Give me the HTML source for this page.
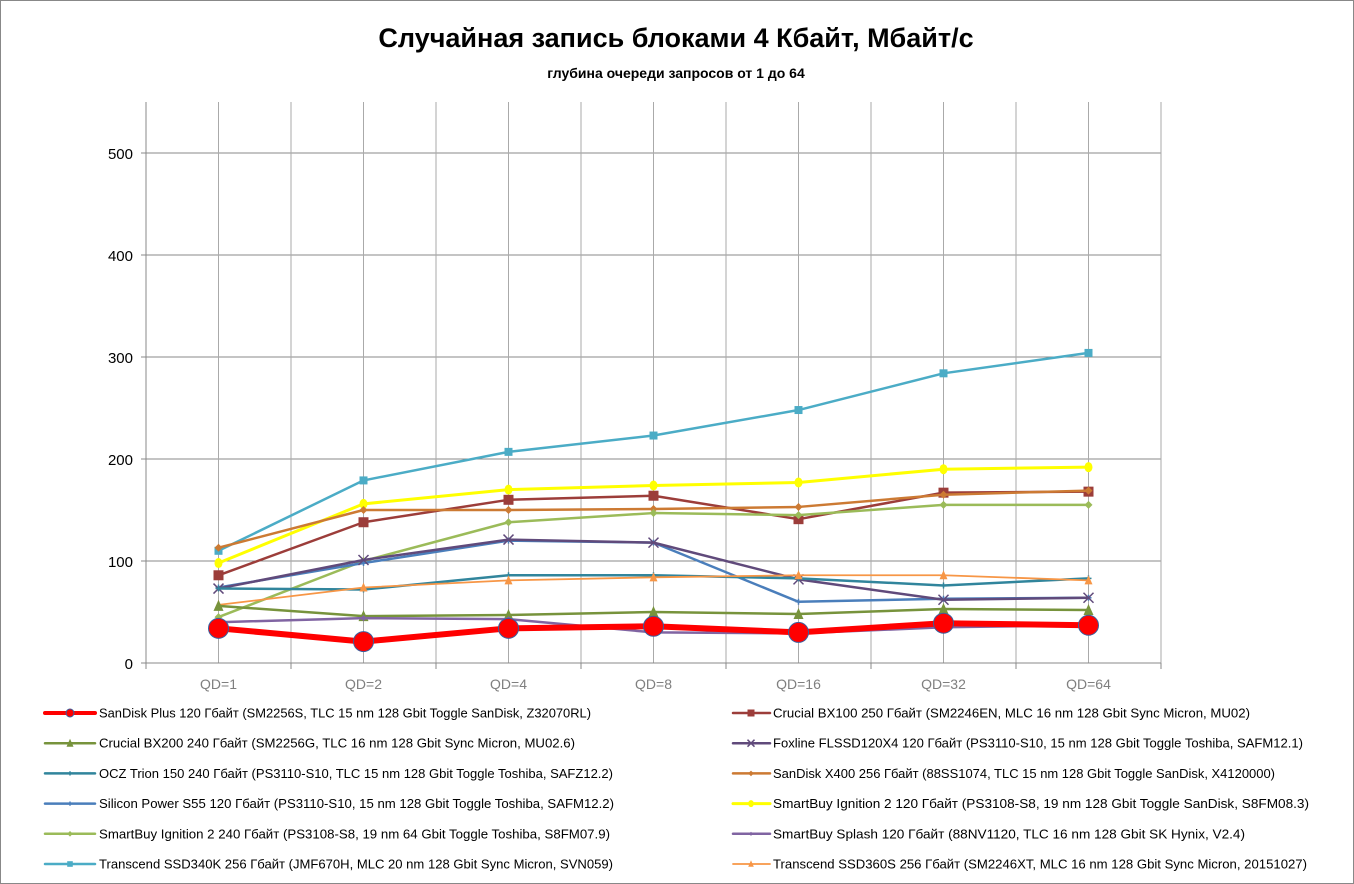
<!DOCTYPE html>
<html><head><meta charset="utf-8"><style>
html,body{margin:0;padding:0;background:#fff}
svg{display:block;font-family:"Liberation Sans",sans-serif}
</style></head><body>
<svg id="chart" width="1354" height="884" viewBox="0 0 1354 884" xmlns="http://www.w3.org/2000/svg">
<rect x="0.5" y="0.5" width="1353" height="883" fill="#fff" stroke="#888"/>
<text x="676" y="47" text-anchor="middle" font-size="27" font-weight="bold">Случайная запись блоками 4 Кбайт, Мбайт/с</text>
<text x="676" y="78" text-anchor="middle" font-size="14" font-weight="bold">глубина очереди запросов от 1 до 64</text>
<g id="grid"></g><g id="axes"></g><g id="series"></g><g id="legend"></g>
</svg>
<script>
const categories=["QD=1","QD=2","QD=4","QD=8","QD=16","QD=32","QD=64"];
const yTicks=[0,100,200,300,400,500];
const names=[
"SanDisk Plus 120 Гбайт (SM2256S, TLC 15 nm 128 Gbit Toggle SanDisk, Z32070RL)",
"Crucial BX100 250 Гбайт (SM2246EN, MLC 16 nm 128 Gbit Sync Micron, MU02)",
"Crucial BX200 240 Гбайт (SM2256G, TLC 16 nm 128 Gbit Sync Micron, MU02.6)",
"Foxline FLSSD120X4 120 Гбайт (PS3110-S10, 15 nm 128 Gbit Toggle Toshiba, SAFM12.1)",
"OCZ Trion 150 240 Гбайт (PS3110-S10, TLC 15 nm 128 Gbit Toggle Toshiba, SAFZ12.2)",
"SanDisk X400 256 Гбайт (88SS1074, TLC 15 nm 128 Gbit Toggle SanDisk, X4120000)",
"Silicon Power S55 120 Гбайт (PS3110-S10, 15 nm 128 Gbit Toggle Toshiba, SAFM12.2)",
"SmartBuy Ignition 2 120 Гбайт (PS3108-S8, 19 nm 128 Gbit Toggle SanDisk, S8FM08.3)",
"SmartBuy Ignition 2 240 Гбайт (PS3108-S8, 19 nm 64 Gbit Toggle Toshiba, S8FM07.9)",
"SmartBuy Splash 120 Гбайт (88NV1120, TLC 16 nm 128 Gbit SK Hynix, V2.4)",
"Transcend SSD340K 256 Гбайт (JMF670H, MLC 20 nm 128 Gbit Sync Micron, SVN059)",
"Transcend SSD360S 256 Гбайт (SM2246XT, MLC 16 nm 128 Gbit Sync Micron, 20151027)"];
const sSanDiskPlus=[34,21,34,36,30,39,37];
const sBX100=[86,138,160,164,141,167,168];
const sBX200=[56,46,47,50,48,53,52];
const sFoxline=[73,101,121,118,82,62,64];
const sTrion=[73,72,86,86,83,76,83];
const sX400=[113,150,150,151,153,165,169];
const sS55=[74,98,120,118,60,63,64];
const sIgn120=[98,156,170,174,177,190,192];
const sIgn240=[45,100,138,147,145,155,155];
const sSplash=[40,44,43,30,29,35,37];
const s340K=[110,179,207,223,248,284,304];
const s360S=[57,74,81,84,86,86,81];
const seriesVals=[sSanDiskPlus,sBX100,sBX200,sFoxline,sTrion,sX400,sS55,sIgn120,sIgn240,sSplash,s340K,s360S];
const styles=[
{c:"#ff0000",w:6,m:"circle",r:10},{c:"#9c3d3a",w:2.5,m:"square",r:5},{c:"#77933c",w:2.5,m:"tri",r:5},
{c:"#604a7b",w:2.5,m:"x",r:5},{c:"#31859c",w:2.5,m:"plus",r:3},{c:"#cc7a33",w:2.5,m:"diamond",r:4},
{c:"#4a7ebb",w:2.5,m:"plus",r:3},{c:"#ffff00",w:3,m:"oval",r:5},{c:"#9bbb59",w:2.5,m:"diamond",r:4},
{c:"#8064a2",w:2.5,m:"diamond",r:3},{c:"#4bacc6",w:2.5,m:"square",r:4},{c:"#f79646",w:1.8,m:"tri",r:4}];
const legendEnds=[591,1250,575,1303,613,1275,614,1309,610,1245,613,1307];
const NS="http://www.w3.org/2000/svg";
const L=146,R=1161,T=102,B=663,YMAX=550;
const xs=i=>L+(i+0.5)*(R-L)/categories.length;
const ys=v=>B-v/YMAX*(B-T);
function mk(tag,attrs,parent){const e=document.createElementNS(NS,tag);for(const k in attrs)e.setAttribute(k,attrs[k]);parent.appendChild(e);return e;}
const grid=document.getElementById('grid'),axes=document.getElementById('axes'),ser=document.getElementById('series'),leg=document.getElementById('legend');
yTicks.forEach(t=>{if(t>0){const l=mk('line',{x1:L,x2:R,y1:ys(t),y2:ys(t),stroke:'#888','stroke-width':1},grid);

}
const tx=mk('text',{x:133,y:ys(t)+6,'text-anchor':'end','font-size':15,fill:'#000'},axes);tx.textContent=t;


mk('line',{x1:141,x2:L,y1:ys(t),y2:ys(t),stroke:'#888'},axes);});
const step=(R-L)/categories.length;
for(let i=0;i<=categories.length*2;i++){const x=L+i*step/2;if(i>0){const g=mk('line',{x1:x,x2:x,y1:T,y2:B,stroke:'#aaa','stroke-width':1},grid);

}
if(i%2==0)mk('line',{x1:x,x2:x,y1:B,y2:B+6,stroke:'#888'},axes);}
const ya=mk('line',{x1:L,x2:L,y1:T,y2:B,stroke:'#888'},axes);


const xa=mk('line',{x1:L,x2:R,y1:B,y2:B,stroke:'#888'},axes);


categories.forEach((c,i)=>{const t=mk('text',{x:xs(i),y:689,'text-anchor':'middle','font-size':14,fill:'#7f7f7f'},axes);t.textContent=c;

});
function marker(st,x,y,p,scale){const r=st.r*(scale||1);let e;
if(st.m=="circle")e=mk('circle',{cx:x,cy:y,r:r,fill:st.c,stroke:'#3a5f9e','stroke-width':1},p);
else if(st.m=="oval")e=mk('ellipse',{cx:x,cy:y,rx:r*0.8,ry:r,fill:st.c},p);
else if(st.m=="square")e=mk('rect',{x:x-r,y:y-r,width:2*r,height:2*r,fill:st.c},p);
else if(st.m=="tri")e=mk('polygon',{points:`${x},${y-r-1} ${x-r},${y+r} ${x+r},${y+r}`,fill:st.c},p);
else if(st.m=="diamond")e=mk('polygon',{points:`${x},${y-r} ${x+r},${y} ${x},${y+r} ${x-r},${y}`,fill:st.c},p);
else if(st.m=="x")e=mk('path',{d:`M${x-r} ${y-r}L${x+r} ${y+r}M${x-r} ${y+r}L${x+r} ${y-r}`,stroke:st.c,'stroke-width':1.5},p);
else e=mk('path',{d:`M${x-r} ${y}L${x+r} ${y}M${x} ${y-r}L${x} ${y+r}`,stroke:st.c,'stroke-width':1.5},p);
return e;}
const order=[10,7,1,5,8,6,3,4,11,2,9,0];
order.forEach(k=>{const st=styles[k],vals=seriesVals[k];
const g=mk('g',{},ser);


const pl=mk('polyline',{points:vals.map((v,i)=>xs(i)+','+ys(v)).join(' '),fill:'none',stroke:st.c,'stroke-width':st.w,'stroke-linejoin':'round'},g);


vals.forEach((v,i)=>{const m=marker(st,xs(i),ys(v),g);

});});
names.forEach((n,k)=>{const col=k%2,row=Math.floor(k/2);const y=713+row*30.2;
const lx=col?733:45,tx=col?773:99;const st=styles[k];
const g=mk('g',{},leg);


mk('line',{x1:lx,x2:lx+(col?37:50),y1:y,y2:y,stroke:st.c,'stroke-width':Math.min(st.w,4),'stroke-linecap':'round'},g);
marker(st,lx+(col?18:25),y,g,k==0?0.4:0.7);
const t=mk('text',{x:tx,y:y+4.5,'font-size':13,fill:'#000',textLength:legendEnds[k]-tx,lengthAdjust:'spacingAndGlyphs'},g);t.textContent=n;});
</script>
</body></html>
